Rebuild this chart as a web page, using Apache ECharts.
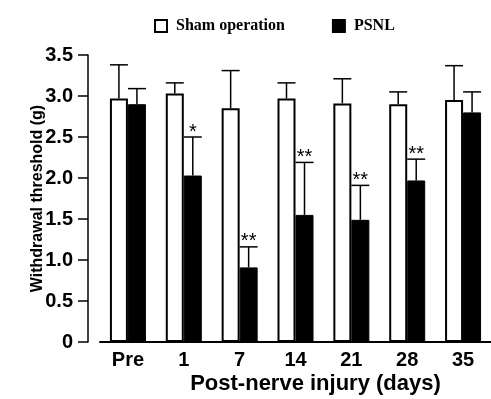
<!DOCTYPE html>
<html>
<head>
<meta charset="utf-8">
<script src="https://cdn.jsdelivr.net/npm/echarts@6/dist/echarts.min.js"></script>
<style>
  html, body { margin: 0; padding: 0; background: #fff; }
  #main { width: 491px; height: 399px; }
</style>
</head>
<body>
<div id="main"></div>
<script>
// data
var categories = ['Pre', '1', '7', '14', '21', '28', '35'];
var shamMean = [2.97, 3.03, 2.85, 2.97, 2.91, 2.90, 2.95];
var shamSd   = [0.41, 0.13, 0.46, 0.19, 0.30, 0.15, 0.42];
var psnlMean = [2.90, 2.03, 0.91, 1.55, 1.49, 1.97, 2.80];
var psnlSd   = [0.19, 0.47, 0.25, 0.64, 0.42, 0.26, 0.25];
var psnlSig  = ['', '*', '**', '**', '**', '**', ''];
var yTicks = [0, 0.5, 1.0, 1.5, 2.0, 2.5, 3.0, 3.5];

var barW = 18;
var font = '"Liberation Sans", Arial, sans-serif';

// error bar rows: [index, mean, mean + sd]
function errData(mean, sd) {
    var out = [];
    for (var i = 0; i < mean.length; i++) {
        out.push([i, mean[i], +(mean[i] + sd[i]).toFixed(2)]);
    }
    return out;
}

function errRender(offset, sig) {
    return function (params, api) {
        var base = api.coord([api.value(0), api.value(1)]);
        var top = api.coord([api.value(0), api.value(2)]);
        var cx = base[0] + offset;
        var star = sig ? sig[params.dataIndex] : '';
        var style = { stroke: '#000', lineWidth: 1.5 };
        var children = [
            { type: 'line', shape: { x1: cx, y1: base[1], x2: cx, y2: top[1] }, style: style },
            { type: 'line', shape: { x1: cx - barW / 2, y1: top[1], x2: cx + barW / 2, y2: top[1] }, style: style }
        ];
        if (star) {
            children.push({
                type: 'text',
                style: {
                    text: star, x: cx, y: top[1] + 5,
                    align: 'center', verticalAlign: 'bottom',
                    fill: '#000', font: '20px ' + font
                }
            });
        }
        return { type: 'group', children: children };
    };
}

var chart = echarts.init(document.getElementById('main'));
chart.setOption({
    animation: false,
    backgroundColor: '#fff',
    legend: {
        left: 149,
        top: 13,
        itemWidth: 12,
        itemHeight: 12,
        itemGap: 47,
        icon: 'rect',
        data: ['Sham operation', 'PSNL'],
        textStyle: {
            fontFamily: '"Liberation Serif", "Times New Roman", serif',
            fontWeight: 'bold',
            fontSize: 16,
            color: '#000',
            padding: [0, 0, 0, 4]
        }
    },
    grid: { left: 100, right: 0, top: 55, bottom: 57, outerBoundsMode: 'none' },
    xAxis: {
        type: 'category',
        data: categories,
        name: 'Post-nerve injury (days)',
        nameLocation: 'middle',
        nameGap: 31,
        nameMoveOverlap: false,
        nameTextStyle: {
            fontFamily: font,
            fontWeight: 'bold',
            fontSize: 22,
            color: '#000',
            padding: [0, 0, 0, 40]
        },
        axisLine: { lineStyle: { color: '#000', width: 2 } },
        axisTick: { show: false },
        axisLabel: {
            fontFamily: font,
            fontWeight: 'bold',
            fontSize: 20,
            color: '#000',
            margin: 8
        }
    },
    yAxis: {
        type: 'value',
        min: 0,
        max: 3.5,
        interval: 0.5,
        offset: 12,
        name: 'Withdrawal threshold (g)',
        nameLocation: 'middle',
        nameGap: 42,
        nameMoveOverlap: false,
        nameRotate: 90,
        nameTextStyle: {
            fontFamily: font,
            fontWeight: 'bold',
            fontSize: 16,
            color: '#000'
        },
        axisLine: { show: true, lineStyle: { color: '#000', width: 1.5 } },
        axisTick: { show: true, length: 10, lineStyle: { color: '#000', width: 1.5 } },
        splitLine: { show: false },
        axisLabel: {
            fontFamily: font,
            fontWeight: 'bold',
            fontSize: 20,
            color: '#000',
            margin: 15,
            formatter: function (v) {
                return yTicks.indexOf(v) < 0 ? '' : (v === 0 ? '0' : v.toFixed(1));
            }
        }
    },
    series: [
        {
            name: 'Sham operation',
            type: 'bar',
            data: shamMean,
            barWidth: barW,
            barGap: '0%',
            itemStyle: { color: '#fff', borderColor: '#000', borderWidth: 2 }
        },
        {
            name: 'PSNL',
            type: 'bar',
            data: psnlMean,
            barWidth: barW,
            barGap: '0%',
            itemStyle: { color: '#000', borderColor: '#000', borderWidth: 1 }
        },
        {
            type: 'custom',
            renderItem: errRender(-barW / 2, null),
            data: errData(shamMean, shamSd),
            encode: { x: 0, y: [1, 2] },
            z: 3
        },
        {
            type: 'custom',
            renderItem: errRender(barW / 2, psnlSig),
            data: errData(psnlMean, psnlSd),
            encode: { x: 0, y: [1, 2] },
            z: 3
        }
    ]
});
</script>
</body>
</html>
